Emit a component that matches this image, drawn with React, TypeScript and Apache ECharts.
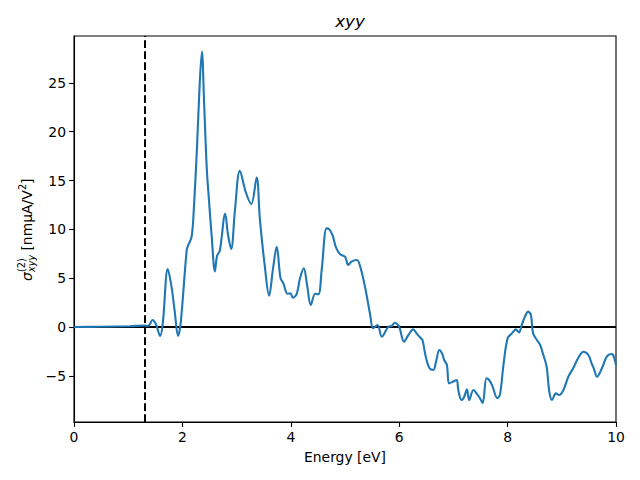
import React, { useEffect, useRef } from "react";
import * as echarts from "echarts";

const energy: number[] = [
  0, 0.48, 1.03, 1.31, 1.37, 1.45, 1.51, 1.59, 1.64, 1.73, 1.8, 1.86, 1.92, 1.97,
  2.08, 2.11, 2.17, 2.21, 2.27, 2.32, 2.36, 2.4, 2.45, 2.49, 2.54, 2.6, 2.64, 2.69,
  2.79, 2.84, 2.9, 2.97, 3.06, 3.17, 3.27, 3.37, 3.43, 3.52, 3.6, 3.67, 3.74, 3.81,
  3.86, 3.94, 3.99, 4.04, 4.11, 4.17, 4.24, 4.3, 4.37, 4.45, 4.51, 4.57, 4.66, 4.71,
  4.77, 4.83, 4.91, 5.0, 5.06, 5.12, 5.22, 5.28, 5.37, 5.46, 5.52, 5.6, 5.68, 5.8,
  5.86, 5.92, 5.98, 6.01, 6.09, 6.17, 6.26, 6.32, 6.4, 6.43, 6.49, 6.56, 6.63, 6.68,
  6.74, 6.79, 6.83, 6.88, 6.92, 6.99, 7.06, 7.09, 7.15, 7.2, 7.25, 7.29, 7.37, 7.44,
  7.49, 7.54, 7.61, 7.66, 7.72, 7.81, 7.86, 7.92, 8.0, 8.08, 8.15, 8.21, 8.26, 8.32,
  8.38, 8.43, 8.47, 8.54, 8.6, 8.66, 8.72, 8.77, 8.82, 8.89, 8.95, 9.03, 9.12, 9.21,
  9.3, 9.4, 9.49, 9.55, 9.59, 9.65, 9.74, 9.83, 9.92, 9.95, 10.0,
];

const sigma: number[] = [
  0, 0.02, 0.08, 0.15, 0.12, 0.72, 0.3, -0.92, 0.5, 5.94, 4.1, 1.5, -0.92, 0.5,
  7.9, 8.4, 9.25, 12, 18.5, 25, 28.2, 23, 16.2, 13, 9.3, 5.7, 7.3, 7.8,
  11.6, 9.5, 8.0, 12, 16.0, 13.8, 12.6, 15.3, 11, 6.25, 3.2, 5.9, 8.2, 5.0,
  4.5, 3.4, 3.45, 3.0, 3.4, 5.0, 6.0, 4.3, 2.25, 3.4, 3.35, 5.84, 10.1, 10.0,
  9.4, 8.2, 7.45, 7.2, 6.35, 6.7, 6.86, 6.2, 4.1, 1.4, -0.13, 0.2, -1.0, 0.03,
  0.1, 0.44, 0.2, -0.14, -1.5, -0.82, -0.24, -0.65, -1.16, -1.33, -3.04, -4.23, -4.4, -3.55,
  -2.36, -2.7, -3.38, -3.9, -5.77, -5.6, -5.43, -6.45, -7.48, -7.14, -6.38, -7.48, -6.45, -6.9,
  -7.3, -7.8, -5.26, -5.43, -6.05, -7.3, -6.9, -4.06, -1.16, -0.65, -0.24, -0.55, 0.2, 1.06,
  1.57, 1.23, -0.65, -1.33, -1.84, -2.87, -4.06, -6.63, -7.48, -6.8, -6.97, -6.45, -5.1, -4.23,
  -3.2, -2.53, -2.87, -3.72, -4.23, -5.1, -4.23, -3.04, -2.77, -2.87, -3.9,
];

const yTicks: number[] = [-5, 0, 5, 10, 15, 20, 25];
const gapEnergy = 1.31;
const yMin = -9.73;
const yMax = 29.8;

const FONT = "DejaVu Sans";

export default function App() {
  const ref = useRef<HTMLDivElement>(null);
  useEffect(() => {
    if (!ref.current) return;
    const chart = echarts.init(ref.current, null, { renderer: "svg" });
    const data = energy.map((e, i) => [e, sigma[i]]);
    const fs = 13.9;
    const small = 9.7;
    const labelStyle = (text: string, x: number, y: number, size: number, italic = false) => ({
      type: "text",
      x,
      y,
      style: {
        text,
        fontFamily: FONT,
        fontSize: size,
        fontStyle: italic ? "italic" : "normal",
        fill: "#000",
        textAlign: "left",
        textVerticalAlign: "middle",
      },
    });
    chart.setOption({
      animation: false,
      backgroundColor: "#fff",
      title: {
        text: "xyy",
        left: 345,
        textAlign: "center",
        top: 7,
        textStyle: {
          fontFamily: FONT,
          fontSize: 16.7,
          fontStyle: "italic",
          fontWeight: "normal",
          color: "#000",
        },
      },
      grid: {
        left: 74,
        right: 24,
        top: 36,
        bottom: 58,
        show: true,
        borderColor: "#000",
        borderWidth: 1.1,
        backgroundColor: "transparent",
      },
      xAxis: {
        type: "value",
        min: 0,
        max: 10,
        interval: 2,
        name: "Energy [eV]",
        nameLocation: "middle",
        nameGap: 28,
        nameTextStyle: { fontFamily: FONT, fontSize: fs, color: "#000" },
        axisLine: { show: true, onZero: false, lineStyle: { color: "#000", width: 1.1 } },
        axisTick: { show: true, length: 4.9, lineStyle: { color: "#000", width: 1.1 } },
        axisLabel: { fontFamily: FONT, fontSize: fs, color: "#000", margin: 8 },
        splitLine: { show: false },
      },
      yAxis: {
        type: "value",
        min: yMin,
        max: yMax,
        axisLine: { show: true, onZero: false, lineStyle: { color: "#000", width: 1.1 } },
        axisTick: {
          show: true,
          length: 4.9,
          customValues: yTicks,
          lineStyle: { color: "#000", width: 1.1 },
        },
        axisLabel: {
          fontFamily: FONT,
          fontSize: fs,
          color: "#000",
          margin: 8,
          customValues: yTicks,
          formatter: (v: number) => String(v).replace("-", "\u2212"),
        },
        splitLine: { show: false },
      },
      graphic: [
        {
          type: "group",
          x: 27,
          y: 281,
          rotation: Math.PI / 2,
          children: [
            labelStyle("\u03c3", 0, 0, fs, true),
            labelStyle("(2)", 9, -6, small, false),
            labelStyle("xyy", 9, 4.5, small, true),
            labelStyle(" [nm\u03bcA/V", 26, 0, fs, false),
            labelStyle("2", 91, -5, small, false),
            labelStyle("]", 97, 0, fs, false),
          ],
        },
      ],
      series: [
        {
          type: "line",
          data: [
            [gapEnergy, yMin],
            [gapEnergy, yMax],
          ],
          symbol: "none",
          silent: true,
          z: 1,
          lineStyle: { color: "#000", width: 2, type: [7.7, 3.3] },
        },
        {
          type: "line",
          data: [
            [0, 0],
            [10, 0],
          ],
          symbol: "none",
          silent: true,
          z: 2,
          lineStyle: { color: "#000", width: 2 },
        },
        {
          type: "line",
          data,
          symbol: "none",
          smooth: 0.35,
          z: 3,
          lineStyle: { color: "#1f77b4", width: 2.1 },
        },
      ],
    });
    return () => chart.dispose();
  }, []);
  return <div ref={ref} style={{ width: 640, height: 480, position: "absolute", left: 0, top: 0 }} />;
}
